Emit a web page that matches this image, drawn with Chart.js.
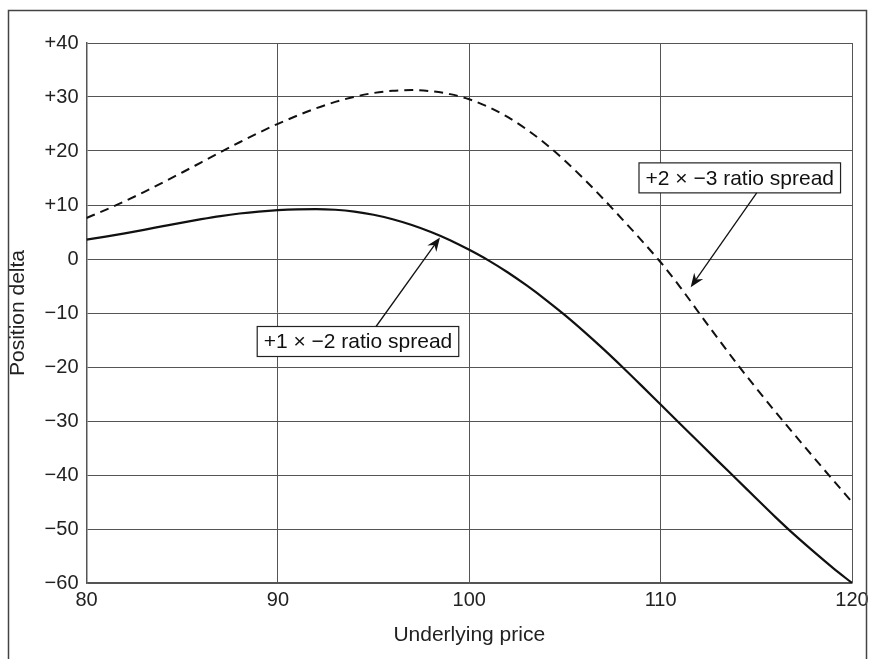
<!DOCTYPE html>
<html>

<head>
	<title>Position delta</title>
	<meta charset="UTF-8">
	<script src="https://cdn.jsdelivr.net/npm/chart.js@4.4.1/dist/chart.umd.min.js"></script>
	<style>
		html, body { margin: 0; padding: 0; background: #fff; }
		#wrap { width: 871px; height: 659px; position: relative; }
	</style>
</head>

<body>
	<div id="wrap">
		<canvas id="deltaChart" width="871" height="659"></canvas>
	</div>

	<script>
		// underlying price, one point per unit
		var prices = [80, 81, 82, 83, 84, 85, 86, 87, 88, 89, 90, 91, 92, 93, 94, 95, 96, 97, 98, 99, 100,
			101, 102, 103, 104, 105, 106, 107, 108, 109, 110, 111, 112, 113, 114, 115, 116, 117, 118, 119, 120];

		// +1 x -2 ratio spread delta
		var delta1x2 = [3.6, 4.15, 4.75, 5.4, 6.08, 6.75, 7.38, 7.95, 8.42, 8.78, 9.04, 9.2, 9.25, 9.12, 8.78, 8.2, 7.37, 6.3, 5.0, 3.48, 1.7,
			-0.25, -2.45, -4.9, -7.55, -10.4, -13.45, -16.65, -20.0, -23.45, -26.95, -30.45, -33.95, -37.43, -40.88, -44.35, -47.8, -51.1, -54.2, -57.2, -60];

		// +2 x -3 ratio spread delta
		var delta2x3 = [7.6, 9.1, 10.7, 12.4, 14.18, 16.02, 17.9, 19.78, 21.62, 23.38, 25.03, 26.53, 27.91, 29.09, 30.04, 30.74, 31.16, 31.28, 31.08, 30.53, 29.58,
			28.15, 26.3, 24.0, 21.3, 18.2, 14.8, 11.15, 7.35, 3.45, -0.6, -5.1, -9.95, -14.75, -19.45, -23.95, -28.3, -32.55, -36.75, -40.9, -45.0];

		var yTicks = [-60, -50, -40, -30, -20, -10, 0, 10, 20, 30, 40];
		var yTickLabels = ['\u221260', '\u221250', '\u221240', '\u221230', '\u221220', '\u221210', '0', '+10', '+20', '+30', '+40'];
		var xTickLabels = ['80', '90', '100', '110', '120'];

		// callouts: box top-left and arrow in data units
		var callouts = [
			{ text: '+1 \u00d7 \u22122 ratio spread', boxX: 88.92, boxY: -12.5, fromX: 95.13, toX: 98.47, toY: 4.0, fromTop: true },
			{ text: '+2 \u00d7 \u22123 ratio spread', boxX: 108.87, boxY: 17.8, fromX: 115.02, toX: 111.57, toY: -5.24, fromTop: false }
		];

		function toPoints(xs, ys) {
			var pts = [];
			for (var i = 0; i < xs.length; i++) {
				pts.push({ x: xs[i], y: ys[i] });
			}
			return pts;
		}

		function drawArrow(ctx, x1, y1, x2, y2) {
			var ang = Math.atan2(y2 - y1, x2 - x1);
			var len = 14, half = 5.5;
			ctx.beginPath();
			ctx.moveTo(x1, y1);
			ctx.lineTo(x2 - Math.cos(ang) * 8, y2 - Math.sin(ang) * 8);
			ctx.stroke();
			ctx.save();
			ctx.translate(x2, y2);
			ctx.rotate(ang);
			ctx.beginPath();
			ctx.moveTo(0, 0);
			ctx.lineTo(-len, -half);
			ctx.lineTo(-len + 4.5, 0);
			ctx.lineTo(-len, half);
			ctx.closePath();
			ctx.fill();
			ctx.restore();
		}

		var frameAndCallouts = {
			id: 'frameAndCallouts',
			afterDatasetsDraw: function (chart) {
				var ctx = chart.ctx;
				var xs = chart.scales.x, ys = chart.scales.y;
				ctx.save();

				// outer frame, open at the bottom
				ctx.strokeStyle = '#444';
				ctx.lineWidth = 1.5;
				ctx.beginPath();
				ctx.moveTo(8.5, 670);
				ctx.lineTo(8.5, 10.5);
				ctx.lineTo(866.5, 10.5);
				ctx.lineTo(866.5, 670);
				ctx.stroke();

				ctx.font = '21px "Liberation Sans", Arial, sans-serif';
				ctx.textBaseline = 'middle';
				callouts.forEach(function (c) {
					var bx = xs.getPixelForValue(c.boxX);
					var by = ys.getPixelForValue(c.boxY);
					var w = ctx.measureText(c.text).width + 13;
					var h = 30;
					ctx.fillStyle = '#fff';
					ctx.fillRect(bx, by, w, h);
					ctx.strokeStyle = '#222';
					ctx.lineWidth = 1.2;
					ctx.strokeRect(bx, by, w, h);
					ctx.fillStyle = '#111';
					ctx.textAlign = 'left';
					ctx.fillText(c.text, bx + 6.5, by + h / 2 + 1);

					var fx = xs.getPixelForValue(c.fromX);
					var fy = c.fromTop ? by : by + h;
					ctx.strokeStyle = '#111';
					ctx.lineWidth = 1.3;
					drawArrow(ctx, fx, fy, xs.getPixelForValue(c.toX), ys.getPixelForValue(c.toY));
				});
				ctx.restore();
			}
		};

		var tickFont = { family: '"Liberation Sans", Arial, sans-serif', size: 20 };
		var titleFont = { family: '"Liberation Sans", Arial, sans-serif', size: 21 };

		new Chart(document.getElementById('deltaChart'), {
			type: 'line',
			data: {
				datasets: [
					{
						label: '+1 x -2 ratio spread',
						data: toPoints(prices, delta1x2),
						borderColor: '#111',
						borderWidth: 2.2,
						pointRadius: 0,
						cubicInterpolationMode: 'monotone',
						fill: false
					},
					{
						label: '+2 x -3 ratio spread',
						data: toPoints(prices, delta2x3),
						borderColor: '#111',
						borderWidth: 2,
						borderDash: [9, 6],
						pointRadius: 0,
						cubicInterpolationMode: 'monotone',
						fill: false
					}
				]
			},
			options: {
				responsive: false,
				animation: false,
				layout: { padding: { top: 43, right: 19, left: 0, bottom: 0 } },
				plugins: {
					legend: { display: false },
					tooltip: { enabled: false }
				},
				scales: {
					x: {
						type: 'linear',
						min: 80,
						max: 120,
						afterFit: function (s) { s.height = 76; s.paddingRight = 0; },
						afterBuildTicks: function (s) {
							s.ticks = xTickLabels.map(function (t) { return { value: Number(t) }; });
						},
						ticks: {
							color: '#222',
							font: tickFont,
							padding: 5,
							maxRotation: 0,
							callback: function (v) {
								var i = xTickLabels.indexOf(String(v));
								return i >= 0 ? xTickLabels[i] : '';
							}
						},
						grid: { color: '#555', lineWidth: 1, drawTicks: false },
						border: { color: '#555', width: 1.5 },
						title: {
							display: true,
							text: 'Underlying price',
							color: '#222',
							font: titleFont,
							padding: 11
						}
					},
					y: {
						min: -60,
						max: 40,
						afterFit: function (s) { s.width = 86.5; },
						afterBuildTicks: function (s) {
							s.ticks = yTicks.map(function (v) { return { value: v }; });
						},
						ticks: {
							color: '#222',
							font: tickFont,
							padding: 8,
							callback: function (v) {
								var i = yTicks.indexOf(v);
								return i >= 0 ? yTickLabels[i] : '';
							}
						},
						grid: { color: '#555', lineWidth: 1, drawTicks: false },
						border: { color: '#555', width: 1.5 },
						title: {
							display: true,
							text: 'Position delta',
							color: '#222',
							font: titleFont,
							padding: 6
						}
					}
				}
			},
			plugins: [frameAndCallouts]
		});
	</script>

</body>

</html>
